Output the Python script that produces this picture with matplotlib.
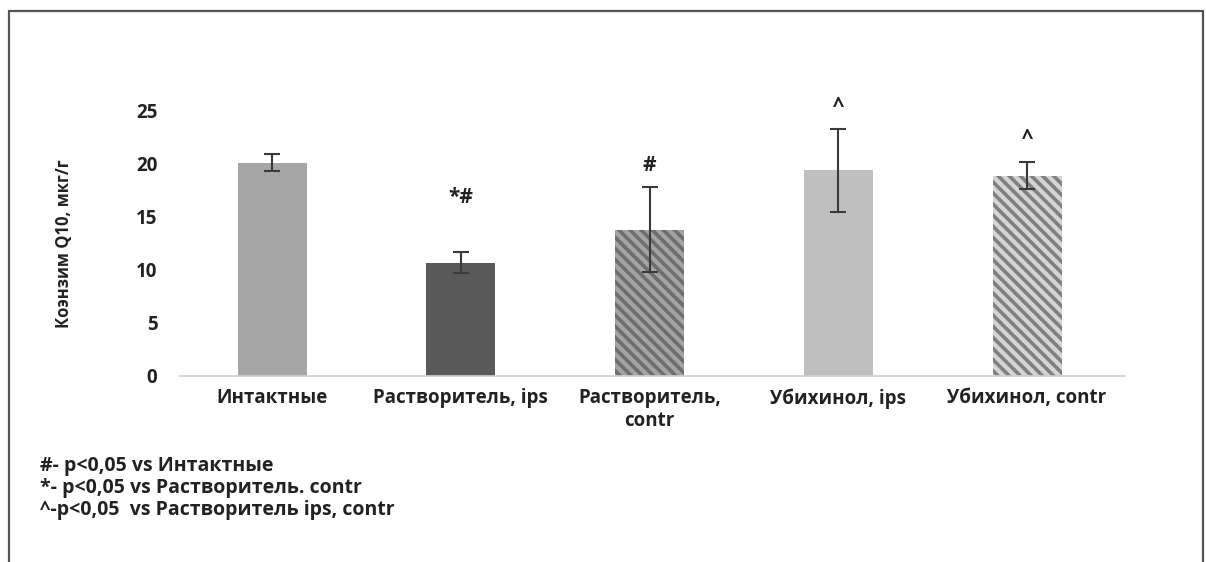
import matplotlib.pyplot as plt
from matplotlib.patches import Rectangle

plt.rcParams['font.family'] = ['Open Sans', 'DejaVu Sans']
plt.rcParams['hatch.linewidth'] = 2.6

categories = ['Интактные', 'Растворитель, ips', 'Растворитель,\ncontr',
              'Убихинол, ips', 'Убихинол, contr']
values = [20.1, 10.7, 13.8, 19.4, 18.9]
errors = [0.8, 1.0, 4.0, 3.9, 1.25]
marks = ['', '*#', '#', '^', '^']
mark_y = [0, 16.8, 19.9, 25.4, 22.4]
yticks = [0, 5, 10, 15, 20, 25]
notes = ['#- p<0,05 vs Интактные',
         '*- p<0,05 vs Растворитель. contr',
         '^-p<0,05  vs Растворитель ips, contr']

face_colors = ['#a6a6a6', '#595959', '#a3a3a3', '#bfbfbf', '#d4d4d4']
hatch_colors = [None, None, '#6e6e6e', None, '#808080']

fig = plt.figure(figsize=(12.06, 5.62), dpi=100)
ax = fig.add_axes([0.149, 0.331, 0.784, 0.4715])

x = range(len(categories))
bars = ax.bar(x, values, width=0.365, color=face_colors, zorder=2)
for bar, hc in zip(bars, hatch_colors):
    if hc:
        bar.set_hatch('\\\\\\')
        bar.set_edgecolor(hc)
        bar.set_linewidth(0)

ax.errorbar(x, values, yerr=errors, fmt='none', ecolor='#3a3a3a',
            elinewidth=1.5, capsize=6, capthick=1.5, zorder=3)

for i, (m, my) in enumerate(zip(marks, mark_y)):
    if m:
        ax.text(i, my, m, ha='center', va='center', fontsize=15,
                fontweight='bold', color='#222222')

ax.set_xlim(-0.49, 4.52)
ax.set_ylim(0, 25)
ax.set_yticks(yticks)
ax.set_xticks(list(x))
ax.set_xticklabels(categories, fontsize=12.5, fontweight='bold', va='top')
ax.tick_params(axis='both', length=0, labelsize=13.5, colors='#222222')
ax.tick_params(axis='x', pad=9)
ax.tick_params(axis='y', pad=16)
for lbl in ax.get_yticklabels():
    lbl.set_fontweight('bold')

for side in ['top', 'right', 'left']:
    ax.spines[side].set_visible(False)
ax.spines['bottom'].set_color('#d0d0d0')
ax.spines['bottom'].set_linewidth(1.2)

ax.set_ylabel('Коэнзим Q10, мкг/г', fontsize=12, fontweight='bold',
              color='#222222', labelpad=45)

for k, note in enumerate(notes):
    fig.text(40 / 1206, 1 - (466 + 22 * k) / 562, note, fontsize=14,
             fontweight='bold', color='#222222', va='center')

fig.patches.append(Rectangle((9 / 1206, -0.1), (1203 - 9) / 1206, 1.1 - 11 / 562,
                             transform=fig.transFigure, fill=False,
                             edgecolor='#555555', linewidth=1.6, clip_on=False))

fig.savefig('out.png', dpi=100)
